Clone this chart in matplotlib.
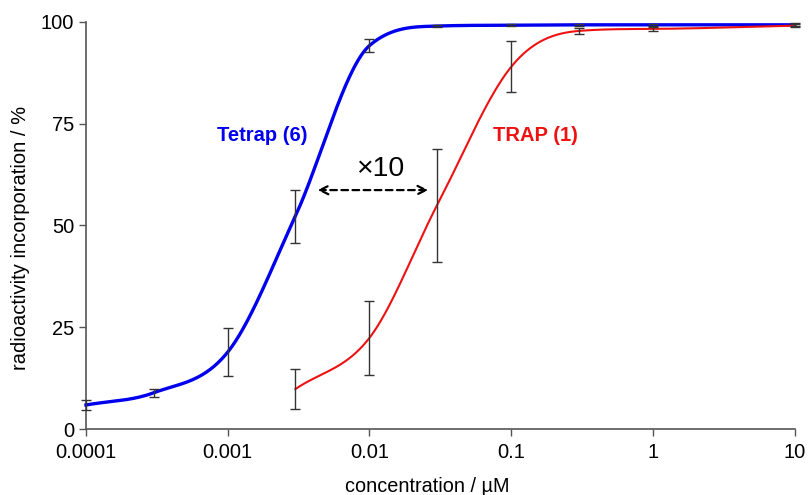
import numpy as np
import matplotlib
matplotlib.use("Agg")
from matplotlib import pyplot as plt

# %% data
conc_tetrap = [0.0001, 0.0003, 0.001, 0.003, 0.01, 0.03, 0.1, 0.3, 1, 10]
tetrap = [5.9, 8.9, 18.9, 52.3, 94.2, 99.0, 99.2, 99.3, 99.3, 99.3]
tetrap_err = [1.2, 1.0, 5.9, 6.5, 1.5, 0.3, 0.3, 0.3, 0.3, 0.4]

conc_trap = [0.003, 0.01, 0.03, 0.1, 0.3, 1, 10]
trap = [9.8, 22.4, 55.0, 89.0, 97.8, 98.3, 99.1]
trap_err = [5.0, 9.1, 13.9, 6.3, 0.7, 0.5, 0.3]

xticks = [0.0001, 0.001, 0.01, 0.1, 1, 10]
xticklabels = ["0.0001", "0.001", "0.01", "0.1", "1", "10"]
yticks = [0, 25, 50, 75, 100]

plt.rcParams['font.family'] = ['Liberation Sans', 'DejaVu Sans']


def smooth_line(x, y, n=60):
    # cubic hermite with centred tangents, limited so it does not overshoot (log-x space)
    lx = np.log10(np.asarray(x, float))
    yy = np.asarray(y, float)
    h = np.diff(lx)
    d = np.diff(yy) / h
    m = np.zeros_like(yy)
    m[0], m[-1] = d[0], d[-1]
    for i in range(1, len(yy) - 1):
        m[i] = (yy[i + 1] - yy[i - 1]) / (lx[i + 1] - lx[i - 1])
        if d[i - 1] * d[i] <= 0:
            m[i] = 0.0
    for i in range(len(d)):
        if d[i] == 0:
            m[i] = m[i + 1] = 0.0
            continue
        a, b = m[i] / d[i], m[i + 1] / d[i]
        r = a * a + b * b
        if r > 9:
            tau = 3 / np.sqrt(r)
            m[i], m[i + 1] = tau * a * d[i], tau * b * d[i]
    xs, ys = [], []
    for i in range(len(yy) - 1):
        t = np.linspace(0, 1, n)
        h00 = 2 * t ** 3 - 3 * t ** 2 + 1
        h10 = t ** 3 - 2 * t ** 2 + t
        h01 = -2 * t ** 3 + 3 * t ** 2
        h11 = t ** 3 - t ** 2
        xs.append(lx[i] + t * h[i])
        ys.append(h00 * yy[i] + h10 * h[i] * m[i] + h01 * yy[i + 1] + h11 * h[i] * m[i + 1])
    return 10 ** np.concatenate(xs), np.concatenate(ys)


# %% figure
fig = plt.figure(figsize=(8.11, 4.95), dpi=100)
ax = fig.add_axes([0.106, 0.1333, 0.874, 0.8223])

bx, by = smooth_line(conc_tetrap, tetrap)
rx, ry = smooth_line(conc_trap, trap)
ax.plot(bx, by, color='#0000ee', lw=2.4, clip_on=False, zorder=3)
ax.plot(rx, ry, color='#ee1111', lw=1.5, clip_on=False, zorder=3)

ax.errorbar(conc_tetrap, tetrap, yerr=tetrap_err, fmt='none', ecolor='#333333',
            elinewidth=1.0, capsize=3.5, capthick=1.0, clip_on=False, zorder=4)
ax.errorbar(conc_trap, trap, yerr=trap_err, fmt='none', ecolor='#333333',
            elinewidth=1.0, capsize=3.5, capthick=1.0, clip_on=False, zorder=4)

ax.set_xscale('log')
ax.set_xlim(0.0001, 10)
ax.set_ylim(0, 100)
ax.set_xticks(xticks)
ax.set_xticklabels(xticklabels)
ax.minorticks_off()
ax.set_yticks(yticks)
ax.tick_params(labelsize=14.5, length=5, width=1, color='#555555', direction='out')
ax.tick_params(axis='x', pad=5)
for s in ['top', 'right']:
    ax.spines[s].set_visible(False)
for s in ['left', 'bottom']:
    ax.spines[s].set_color('#555555')
    ax.spines[s].set_linewidth(1.2)

ax.set_xlabel("concentration / µM", fontsize=14.3)
ax.set_ylabel("radioactivity incorporation / %", fontsize=14.5)
ax.xaxis.set_label_coords(0.482, -0.118)
ax.yaxis.set_label_coords(-0.093, 0.469)
ax.yaxis.label.set_va('center')
ax.xaxis.label.set_va('top')

# labels and the x10 shift arrow
ax.text(0.00175, 72, "Tetrap (6)", color='#0000ee', fontsize=14.5, fontweight='bold',
        ha='center', va='center')
ax.text(0.148, 72, "TRAP (1)", color='#ee1111', fontsize=14.5, fontweight='bold',
        ha='center', va='center')
ax.text(0.0118, 63.8, "×10", color='black', fontsize=20.5, ha='center', va='center')
ax.annotate("", xy=(0.0043, 58.7), xytext=(0.026, 58.7),
            arrowprops=dict(arrowstyle='<->', linestyle=(0, (3, 2)), lw=1.6,
                            color='black', mutation_scale=15, shrinkA=0, shrinkB=0))

fig.savefig("out.png", dpi=100)
